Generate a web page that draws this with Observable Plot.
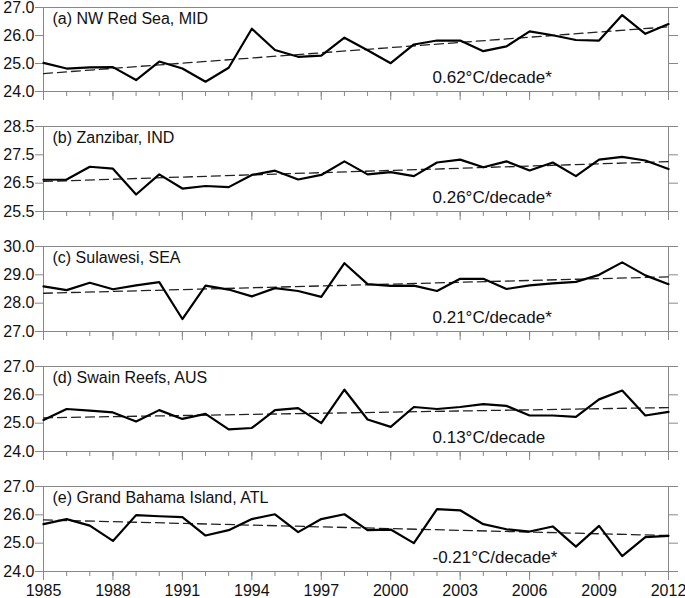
<!DOCTYPE html>
<html><head><meta charset="utf-8">
<script src="https://cdn.jsdelivr.net/npm/d3@7"></script>
<script src="https://cdn.jsdelivr.net/npm/@observablehq/plot@0.6"></script>
<style>
body{margin:0;background:#fff;}
#chart{width:685px;}
#chart svg{display:block;overflow:visible;}
</style></head><body><div id="chart"></div>
<script>
const years = [1985,1986,1987,1988,1989,1990,1991,1992,1993,1994,1995,1996,1997,1998,1999,2000,2001,2002,2003,2004,2005,2006,2007,2008,2009,2010,2011,2012];
const redSea   = [25.02,24.82,24.86,24.87,24.41,25.07,24.82,24.35,24.85,26.24,25.48,25.24,25.28,25.92,25.47,25.01,25.68,25.82,25.82,25.44,25.61,26.15,26.01,25.84,25.82,26.73,26.06,26.41];
const zanzibar = [26.62,26.63,27.08,27.01,26.10,26.81,26.31,26.40,26.36,26.79,26.94,26.63,26.79,27.27,26.81,26.89,26.75,27.23,27.33,27.06,27.27,26.95,27.23,26.75,27.33,27.43,27.30,27.00];
const sulawesi = [28.59,28.46,28.72,28.49,28.63,28.74,27.44,28.62,28.48,28.24,28.53,28.43,28.22,29.41,28.67,28.61,28.62,28.43,28.86,28.86,28.50,28.63,28.70,28.75,29.00,29.44,28.98,28.67];
const swain    = [25.11,25.50,25.44,25.38,25.06,25.46,25.15,25.33,24.78,24.83,25.46,25.53,25.00,26.18,25.13,24.87,25.57,25.50,25.57,25.67,25.61,25.27,25.27,25.22,25.84,26.15,25.27,25.40];
const bahama   = [25.67,25.85,25.62,25.08,25.99,25.95,25.92,25.27,25.46,25.85,26.02,25.39,25.85,26.02,25.46,25.48,25.00,26.20,26.16,25.67,25.49,25.41,25.59,24.88,25.61,24.54,25.21,25.26];
const panelTitles = ["(a) NW Red Sea, MID","(b) Zanzibar, IND","(c) Sulawesi, SEA","(d) Swain Reefs, AUS","(e) Grand Bahama Island, ATL"];
const trendLabels = ["0.62°C/decade*","0.26°C/decade*","0.21°C/decade*","0.13°C/decade","-0.21°C/decade*"];
const trendStart = [24.64,26.56,28.35,25.19,25.82];
const trendEnd   = [26.31,27.26,28.93,25.55,25.27];
const yTicks = [[24,25,26,27],[25.5,26.5,27.5,28.5],[27,28,29,30],[24,25,26,27],[24,25,26,27]];
const xMajorTicks = [1985,1988,1991,1994,1997,2000,2003,2006,2009,2012];

const series = [redSea, zanzibar, sulawesi, swain, bahama];
const chart = document.getElementById("chart");
series.forEach((vals, i) => {
  const first = i === 0;
  const last = i === series.length - 1;
  const data = years.map((year, j) => ({year, value: vals[j]}));
  const trend = [{year: years[0], value: trendStart[i]}, {year: years[years.length - 1], value: trendEnd[i]}];
  const ticks = yTicks[i];
  const plot = Plot.plot({
    width: 685,
    height: last ? 118 : 120,
    marginTop: first ? 7 : 6,
    marginBottom: last ? 27 : 29,
    marginLeft: 43,
    marginRight: 17,
    x: {domain: [1985, 2012]},
    y: {domain: [ticks[0], ticks[ticks.length - 1]]},
    style: {fontFamily: "'Liberation Sans', Arial, sans-serif", fontSize: "16px", color: "#111", background: "transparent", overflow: "visible"},
    marks: [
      Plot.axisY({ticks, tickSize: 8, tickPadding: 1, tickFormat: d3.format(".1f"), stroke: "#888", label: null}),
      Plot.axisY({ticks, anchor: "right", tickSize: 9, tickFormat: () => "", stroke: "#888", label: null}),
      Plot.axisX({ticks: years, tickSize: 5, tickFormat: () => "", stroke: "#888", label: null}),
      Plot.axisX({ticks: xMajorTicks, tickSize: 9, tickPadding: 4, tickFormat: last ? (d => String(d)) : (() => ""), stroke: "#888", label: null}),
      Plot.frame({stroke: "#888"}),
      Plot.line(trend, {x: "year", y: "value", stroke: "#222", strokeWidth: 1.3, strokeDasharray: "9,5"}),
      Plot.line(data, {x: "year", y: "value", stroke: "#000", strokeWidth: 2.2}),
      Plot.text([panelTitles[i]], {text: d => d, frameAnchor: "top-left", textAnchor: "start", lineAnchor: "middle", dx: 9, dy: 11, fontSize: 16, fill: "#111"}),
      Plot.text([trendLabels[i]], {text: d => d, frameAnchor: "bottom-left", textAnchor: "start", lineAnchor: "middle", dx: 389, dy: -14, fontSize: 17, fill: "#111"})
    ]
  });
  chart.append(plot);
});
</script>
</body></html>
